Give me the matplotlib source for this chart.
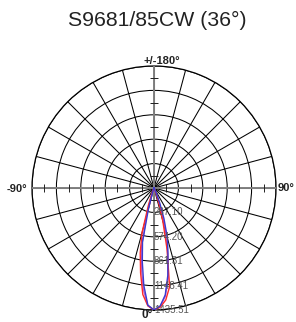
import numpy as np
import matplotlib
matplotlib.use("Agg")
import matplotlib.pyplot as plt

title = "S9681/85CW (36°)"
ring_values = [287.10, 574.20, 861.31, 1148.41, 1435.51]
ring_labels = ["287.10", "574.20", "861.31", "1148.41", "1435.51"]
angle_labels = ["0°", "90°", "+/-180°", "-90°"]

angles_side = [0, 3, 6, 9, 12, 15, 18, 21, 24, 27, 30]
red_right = [1435.51, 1405, 1325, 1175, 740, 400, 180, 60, 10, 0, 0]
red_left = [1435.51, 1388, 1260, 1010, 780, 545, 210, 70, 15, 0, 0]
blue_right = [1435.51, 1390, 1265, 1040, 790, 610, 380, 190, 60, 10, 0]
blue_left = [1435.51, 1380, 1150, 880, 650, 250, 60, 5, 0, 0, 0]
mag_right = [1435.51, 1395, 1280, 1070, 770, 540, 300, 120, 30, 0, 0]
mag_left = [1435.51, 1385, 1200, 950, 700, 330, 90, 10, 0, 0, 0]

W, H = 296, 322
fig = plt.figure(figsize=(W / 100, H / 100), dpi=100)
cx, cy, R = 154, 188, 122
ax = fig.add_axes([(cx - R) / W, (H - cy - R) / H, 2 * R / W, 2 * R / H],
                  projection="polar")
ax.set_theta_zero_location("S")
ax.set_theta_direction(1)
rmax = ring_values[-1]
ax.set_ylim(0, rmax)
ax.set_rticks(ring_values)
ax.set_yticklabels([])
ax.set_thetagrids(np.arange(0, 360, 15), labels=[""] * 24)
ax.grid(True, color="black", lw=0.75)
ax.spines["polar"].set_color("black")
ax.spines["polar"].set_linewidth(0.9)
ax.tick_params(length=0, pad=0)

# axes lines (gray)
for a in [0, 90, 180, 270]:
    ax.plot([np.deg2rad(a)] * 2, [0, rmax], color="#808080", lw=1.4, zorder=3)
half = [(ring_values[i] + (ring_values[i - 1] if i > 0 else 0)) / 2 for i in range(len(ring_values))]
for a, m in [(0, "_"), (180, "_"), (90, "|"), (270, "|")]:
    ax.plot([np.deg2rad(a)] * len(half), half, ls="none", marker=m, ms=6,
            mew=0.7, color="#222222", zorder=3)

def full(side_r, side_l):
    th = [-a for a in angles_side[::-1]] + angles_side[1:]
    r = side_l[::-1] + side_r[1:]
    return np.deg2rad(th), r

for rr, ll, c in [(mag_right, mag_left, "#c060c8"), (red_right, red_left, "#ff2a2a"),
                  (blue_right, blue_left, "#3a3ad0")]:
    th, r = full(rr, ll)
    ax.plot(th, r, color=c, lw=1.0, zorder=4)

for v, lab in zip(ring_values, ring_labels):
    ax.text(0, v, lab, ha="left", va="center", fontsize=7, color="#555555",
            family="Liberation Sans", zorder=5)

fig.text(157 / W, 1 - 20 / H, title, ha="center", va="center", fontsize=15.3,
         family="Liberation Sans", color="#222222")
fig.text(162 / W, 1 - 61 / H, angle_labels[2], ha="center", va="center", fontsize=8,
         weight="bold", family="Liberation Sans", color="#222222")
fig.text(17 / W, 1 - 189 / H, angle_labels[3], ha="center", va="center", fontsize=8,
         weight="bold", family="Liberation Sans", color="#222222")
fig.text(286 / W, 1 - 188 / H, angle_labels[1], ha="center", va="center", fontsize=8,
         weight="bold", family="Liberation Sans", color="#222222")
fig.text(153 / W, 1 - 321 / H, angle_labels[0], ha="right", va="bottom", fontsize=8.5,
         weight="bold", family="Liberation Sans", color="#222222")

fig.savefig("out.png", dpi=100)
